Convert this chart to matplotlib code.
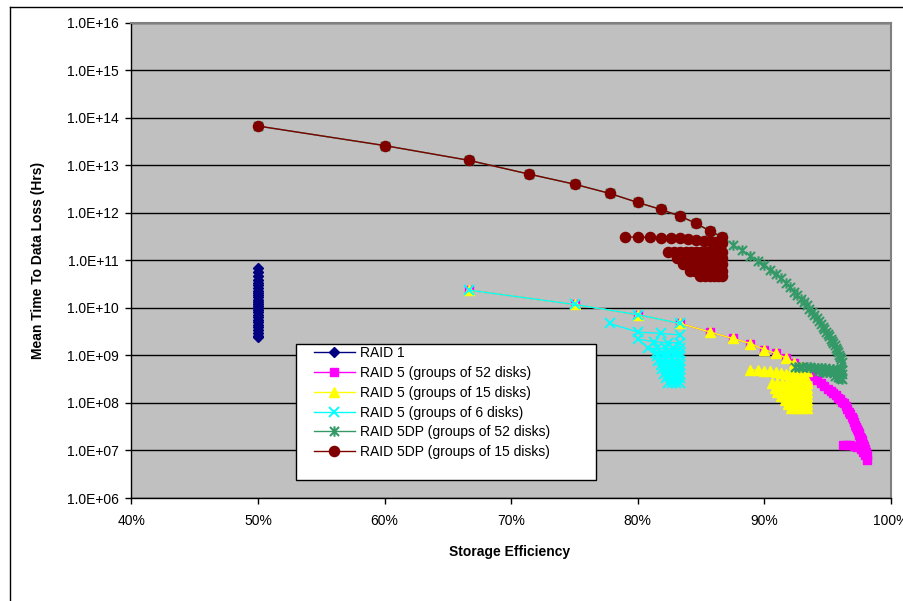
import matplotlib
matplotlib.use("Agg")
import matplotlib.pyplot as plt
from matplotlib.path import Path
from matplotlib.lines import Line2D
from matplotlib.patches import Rectangle
from matplotlib.ticker import FuncFormatter, NullLocator

plt.rcParams['font.family'] = ['Liberation Sans', 'DejaVu Sans']

# ---------------- data (storage efficiency %, MTTDL hours) ----------------
raid1_mttdl = [7.0e10, 5.6e10, 4.6e10, 3.9e10, 3.4e10, 3.0e10, 2.6e10, 2.3e10, 2.1e10,
               1.9e10, 1.7e10, 1.5e10, 1.35e10, 1.2e10, 1.1e10, 1.0e10, 9.0e9, 8.0e9,
               7.2e9, 6.4e9, 5.6e9, 5.0e9, 4.4e9, 3.9e9, 3.4e9, 3.0e9, 2.6e9, 2.4e9]
raid1_eff = [50.0] * len(raid1_mttdl)

r5_52_eff = [66.67, 75.0, 80.0, 83.33, 85.71, 87.5, 88.89, 90.0, 90.91, 91.67, 92.31,
             92.86, 93.33, 93.75, 94.12, 94.44, 94.74, 95.0, 95.24, 95.45, 95.65, 95.83,
             96.0, 96.15, 96.3, 96.43, 96.55, 96.67, 96.77, 96.88, 96.97, 97.06, 97.14,
             97.22, 97.3, 97.37, 97.44, 97.5, 97.56, 97.62, 97.67, 97.73, 97.78, 97.83,
             97.87, 97.92, 97.96, 98.0, 98.04, 98.08]
r5_52_mttdl = [2.36e10, 1.18e10, 7.2e9, 4.7e9, 3.1e9, 2.27e9, 1.78e9, 1.33e9, 1.1e9,
               8.9e8, 6.9e8, 5.8e8, 4.8e8, 3.7e8, 3.1e8, 2.6e8, 2.3e8, 2.0e8, 1.8e8,
               1.6e8, 1.45e8, 1.3e8, 1.2e8, 1.07e8, 9.8e7, 8.5e7, 7.6e7, 6.6e7, 5.8e7,
               5.0e7, 4.5e7, 3.9e7, 3.5e7, 3.1e7, 2.8e7, 2.6e7, 2.3e7, 2.1e7, 1.95e7,
               1.8e7, 1.66e7, 1.5e7, 1.4e7, 1.26e7, 1.15e7, 1.05e7, 9.8e6, 9.1e6, 8.5e6,
               7.9e6]
r5_52_row2_eff = [96.23, 96.5, 96.8, 97.1, 97.35, 97.6, 97.8, 97.95, 98.08]
r5_52_row2_mttdl = [1.33e7, 1.32e7, 1.3e7, 1.26e7, 1.2e7, 1.1e7, 9.5e6, 8.0e6, 6.3e6]

r5_15_eff = [66.67, 75.0, 80.0, 83.33, 85.71, 87.5, 88.89, 90.0, 90.91, 91.67, 92.31,
             92.86, 93.33]
r5_15_mttdl = [2.36e10, 1.18e10, 7.2e9, 4.7e9, 3.1e9, 2.27e9, 1.78e9, 1.33e9, 1.1e9,
               8.9e8, 6.9e8, 5.8e8, 4.8e8]
r5_15_row2_eff = [88.89, 89.47, 90.0, 90.48, 90.91, 91.3, 91.67, 92.0, 92.31, 92.59,
                  92.86, 93.1, 93.33]
r5_15_row2_mttdl = [5.0e8, 4.9e8, 4.8e8, 4.6e8, 4.4e8, 4.25e8, 4.1e8, 4.0e8, 3.8e8,
                    3.6e8, 3.5e8, 3.3e8, 3.1e8]
r5_15_blob_eff = [[90.6, 91.0, 91.4, 91.8, 92.2, 92.6, 93.0, 93.33],
                  [90.8, 91.2, 91.6, 92.0, 92.4, 92.8, 93.1, 93.33],
                  [91.0, 91.4, 91.8, 92.2, 92.6, 93.0, 93.33],
                  [91.3, 91.7, 92.1, 92.5, 92.9, 93.33],
                  [91.6, 92.0, 92.4, 92.8, 93.1, 93.33],
                  [91.9, 92.3, 92.7, 93.0, 93.33],
                  [92.1, 92.5, 92.9, 93.33]]
r5_15_blob_mttdl = [2.6e8, 2.1e8, 1.7e8, 1.4e8, 1.15e8, 9.5e7, 7.8e7]

r5_6_eff = [66.67, 75.0, 80.0, 83.33]
r5_6_mttdl = [2.36e10, 1.18e10, 7.2e9, 4.7e9]
r5_6_row2_eff = [77.78, 80.0, 81.82, 83.33]
r5_6_row2_mttdl = [4.7e9, 3.1e9, 2.9e9, 2.7e9]
r5_6_row3_eff = [80.0, 81.25, 82.35, 83.33]
r5_6_row3_mttdl = [2.2e9, 1.95e9, 1.85e9, 1.85e9]
r5_6_blob_eff = [[80.8, 81.5, 82.2, 82.8, 83.33],
                 [81.4, 81.9, 82.4, 82.9, 83.33],
                 [81.5, 82.0, 82.4, 82.9, 83.33],
                 [81.6, 82.1, 82.5, 82.9, 83.33],
                 [81.8, 82.2, 82.6, 83.0, 83.33],
                 [81.9, 82.3, 82.7, 83.0, 83.33],
                 [82.1, 82.5, 82.8, 83.1, 83.33],
                 [82.2, 82.6, 82.9, 83.1, 83.33],
                 [82.4, 82.7, 83.0, 83.33]]
r5_6_blob_mttdl = [1.45e9, 1.15e9, 9.5e8, 7.8e8, 6.3e8, 5.1e8, 4.1e8, 3.3e8, 2.6e8]

r5dp_52_eff = [50.0, 60.0, 66.67, 71.43, 75.0, 77.78, 80.0, 81.82, 83.33, 84.62, 85.71,
               86.67, 87.5, 88.24, 88.89, 89.47, 90.0, 90.48, 90.91, 91.3, 91.67, 92.0,
               92.31, 92.59, 92.86, 93.1, 93.33, 93.55, 93.75, 93.94, 94.12, 94.29, 94.44,
               94.59, 94.74, 94.87, 95.0, 95.12, 95.24, 95.35, 95.45, 95.56, 95.65, 95.74,
               95.83, 95.92, 96.0, 96.08, 96.15]
r5dp_52_mttdl = [6.7e13, 2.6e13, 1.27e13, 6.5e12, 4.0e12, 2.56e12, 1.65e12, 1.18e12,
                 8.5e11, 6.0e11, 4.1e11, 3.1e11, 2.14e11, 1.62e11, 1.26e11, 9.8e10,
                 7.8e10, 6.3e10, 5.1e10, 4.2e10, 3.3e10, 2.7e10, 2.2e10, 1.86e10, 1.55e10,
                 1.32e10, 1.15e10, 9.6e9, 8.2e9, 7.0e9, 6.0e9, 5.2e9, 4.6e9, 4.0e9, 3.55e9,
                 3.15e9, 2.8e9, 2.5e9, 2.25e9, 2.0e9, 1.8e9, 1.62e9, 1.45e9, 1.3e9,
                 1.17e9, 1.04e9, 9.3e8, 8.3e8, 7.3e8]
r5dp_52_row2_eff = [92.45, 92.73, 93.0, 93.33, 93.6, 93.9, 94.2, 94.5, 94.8, 95.1, 95.4,
                    95.7, 95.95, 96.15]
r5dp_52_row2_mttdl = [5.8e8, 5.75e8, 5.7e8, 5.65e8, 5.6e8, 5.55e8, 5.5e8, 5.45e8, 5.4e8,
                      5.3e8, 5.2e8, 5.1e8, 5.0e8, 4.9e8]
r5dp_52_row3_eff = [94.3, 94.6, 94.9, 95.2, 95.5, 95.8, 96.0, 96.15]
r5dp_52_row3_mttdl = [4.6e8, 4.55e8, 4.5e8, 4.4e8, 4.3e8, 4.2e8, 4.1e8, 4.0e8]
r5dp_52_row4_eff = [95.6, 95.8, 95.95, 96.05, 96.15]
r5dp_52_row4_mttdl = [3.6e8, 3.5e8, 3.4e8, 3.3e8, 3.2e8]

r5dp_15_eff = [50.0, 60.0, 66.67, 71.43, 75.0, 77.78, 80.0, 81.82, 83.33, 84.62, 85.71,
               86.67]
r5dp_15_mttdl = [6.7e13, 2.6e13, 1.27e13, 6.5e12, 4.0e12, 2.56e12, 1.65e12, 1.18e12,
                 8.5e11, 6.0e11, 4.1e11, 3.1e11]
r5dp_15_row2_eff = [78.95, 80.0, 80.95, 81.82, 82.61, 83.33, 84.0, 84.62, 85.19, 85.71,
                    86.21, 86.67]
r5dp_15_row2_mttdl = [3.1e11, 3.1e11, 3.05e11, 3.0e11, 2.95e11, 2.9e11, 2.8e11, 2.7e11,
                      2.6e11, 2.5e11, 2.4e11, 2.3e11]
r5dp_15_blob_eff = [[82.35, 82.86, 83.33, 83.78, 84.21, 84.62, 85.0, 85.37, 85.71, 86.05,
                     86.36, 86.67],
                    [83.1, 83.5, 83.9, 84.3, 84.7, 85.1, 85.5, 85.9, 86.3, 86.67],
                    [83.6, 84.0, 84.4, 84.8, 85.2, 85.6, 86.0, 86.3, 86.67],
                    [84.1, 84.5, 84.9, 85.3, 85.7, 86.0, 86.3, 86.67],
                    [84.9, 85.3, 85.7, 86.0, 86.3, 86.67]]
r5dp_15_blob_mttdl = [1.5e11, 1.1e11, 8.2e10, 6.1e10, 4.7e10]

labels = ["RAID 1", "RAID 5 (groups of 52 disks)", "RAID 5 (groups of 15 disks)",
          "RAID 5 (groups of 6 disks)", "RAID 5DP (groups of 52 disks)",
          "RAID 5DP (groups of 15 disks)"]
x_ticks = [40, 50, 60, 70, 80, 90, 100]

# ---------------- styles ----------------
asterisk = Path([(-1, -1), (1, 1), (-1, 1), (1, -1), (0, -1.15), (0, 1.15)],
                [Path.MOVETO, Path.LINETO, Path.MOVETO, Path.LINETO, Path.MOVETO, Path.LINETO])
styles = [
    dict(color='#000080', marker='D', ms=4.8, mfc='#000080', mec='#000080', zorder=3.0),
    dict(color='#FF00FF', marker='s', ms=5.8, mfc='#FF00FF', mec='#FF00FF', zorder=3.1),
    dict(color='#FFFF00', marker='^', ms=7.6, mfc='#FFFF00', mec='#FFFF00', zorder=3.2),
    dict(color='#00FFFF', marker='x', ms=6.5, mew=1.4, mec='#00FFFF', zorder=3.3),
    dict(color='#339966', marker=asterisk, ms=7.5, mew=1.5, mfc='none', mec='#339966', zorder=3.4),
    dict(color='#800000', marker='o', ms=7.3, mfc='#800000', mec='#800000', zorder=3.5),
]
LW = 1.0

fig = plt.figure(figsize=(9.04, 6.01), dpi=100)
fig.patch.set_facecolor('white')
ax = fig.add_axes([131.4 / 904, 1 - 498 / 601, (891 - 131.4) / 904, (498 - 22.7) / 601])
ax.set_facecolor('#C0C0C0')
ax.set_yscale('log')
ax.set_xlim(40, 100)
ax.set_ylim(1e6, 1e16)


def draw(xs, ys, st, label=None):
    return ax.plot(xs, ys, lw=LW, label=label, **st)[0]


handles = []
handles.append(draw(raid1_eff, raid1_mttdl, styles[0], labels[0]))

handles.append(draw(r5_52_eff, r5_52_mttdl, styles[1], labels[1]))
draw(r5_52_row2_eff, r5_52_row2_mttdl, styles[1])

handles.append(draw(r5_15_eff, r5_15_mttdl, styles[2], labels[2]))
draw(r5_15_row2_eff, r5_15_row2_mttdl, styles[2])
for xs, v in zip(r5_15_blob_eff, r5_15_blob_mttdl):
    draw(xs, [v] * len(xs), styles[2])

handles.append(draw(r5_6_eff, r5_6_mttdl, styles[3], labels[3]))
draw(r5_6_row2_eff, r5_6_row2_mttdl, styles[3])
draw(r5_6_row3_eff, r5_6_row3_mttdl, styles[3])
for xs, v in zip(r5_6_blob_eff, r5_6_blob_mttdl):
    draw(xs, [v] * len(xs), styles[3])

handles.append(draw(r5dp_52_eff, r5dp_52_mttdl, styles[4], labels[4]))
draw(r5dp_52_row2_eff, r5dp_52_row2_mttdl, styles[4])
draw(r5dp_52_row3_eff, r5dp_52_row3_mttdl, styles[4])
draw(r5dp_52_row4_eff, r5dp_52_row4_mttdl, styles[4])

handles.append(draw(r5dp_15_eff, r5dp_15_mttdl, styles[5], labels[5]))
draw(r5dp_15_row2_eff, r5dp_15_row2_mttdl, styles[5])
for xs, v in zip(r5dp_15_blob_eff, r5dp_15_blob_mttdl):
    draw(xs, [v] * len(xs), styles[5])

# ---------------- axes styling ----------------
ax.set_yticks([10.0 ** k for k in range(6, 17)])
ax.yaxis.set_minor_locator(NullLocator())
ax.yaxis.set_major_formatter(FuncFormatter(lambda v, p: f"{v:.1E}"))
ax.set_xticks(x_ticks)
ax.xaxis.set_major_formatter(FuncFormatter(lambda v, p: f"{v:.0f}%"))
ax.yaxis.grid(True, color='black', lw=1.0)
ax.set_axisbelow(True)
ax.tick_params(axis='y', direction='out', length=4, width=1, pad=5, labelsize=10)
ax.tick_params(axis='x', direction='out', length=4, width=1, pad=7.5, labelsize=10)
for s in ('left', 'bottom'):
    ax.spines[s].set_color('black')
    ax.spines[s].set_linewidth(1.0)
for s in ('top', 'right'):
    ax.spines[s].set_color('#808080')
    ax.spines[s].set_linewidth(1.5)

fig.text(510 / 904, 1 - 552 / 601, "Storage Efficiency", ha='center', va='center',
         fontsize=10, fontweight='bold')
fig.text(38 / 904, 1 - 260 / 601, "Mean Time To Data Loss (Hrs)", ha='center',
         va='center', rotation=90, fontsize=10, fontweight='bold')

# legend box
x0 = (296 - 131.4) / 759.6
x1 = (596 - 131.4) / 759.6
y0 = (498 - 480) / 475.3
y1 = (498 - 344) / 475.3
ax.add_patch(Rectangle((x0, y0), x1 - x0, y1 - y0, transform=ax.transAxes,
                       facecolor='white', edgecolor='black', lw=1.0, zorder=6))
leg = ax.legend(handles=handles, loc='upper left',
                bbox_to_anchor=((314 - 131.4) / 759.6, (498 - 346) / 475.3),
                frameon=False, borderpad=0, borderaxespad=0, fontsize=10,
                handlelength=2.95, handletextpad=0.36, labelspacing=0.42, numpoints=1)
leg.set_zorder(7)

# outer chart frame (top and left edges visible)
fig.add_artist(Line2D([10 / 904, 903 / 904], [1 - 7.3 / 601] * 2, transform=fig.transFigure,
                      color='black', lw=1.0))
fig.add_artist(Line2D([10 / 904] * 2, [0, 1 - 7.3 / 601], transform=fig.transFigure,
                      color='black', lw=1.0))

fig.savefig('out.png', dpi=100)
